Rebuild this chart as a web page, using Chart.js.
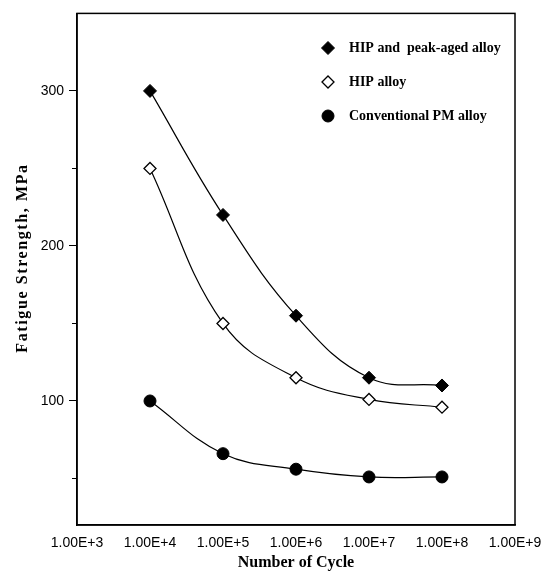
<!DOCTYPE html>
<html>
<head>
<meta charset="utf-8">
<script src="https://cdn.jsdelivr.net/npm/chart.js@4"></script>
<style>
  html, body { margin: 0; padding: 0; background: #fff; }
  #wrap { width: 546px; height: 572px; }
</style>
</head>
<body>
<div id="wrap"><canvas id="fatigueChart" width="546" height="572"></canvas></div>
<script>
// Data
const cycles = [1e4, 1e5, 1e6, 1e7, 1e8];
const hipPeakAged = [300, 220, 155, 115, 110];
const hipAlloy = [250, 150, 115, 101, 96];
const conventionalPM = [100, 66, 56, 51, 51];
const seriesNames = ['HIP and  peak-aged alloy', 'HIP alloy', 'Conventional PM alloy'];
const xTicks = [1e3, 1e4, 1e5, 1e6, 1e7, 1e8, 1e9];
const yMajor = [100, 200, 300];
const yMinor = [50, 150, 250];
const yTitle = 'Fatigue Strength, MPa';

const toPoints = vals => vals.map((v, i) => ({ x: cycles[i], y: v }));

// Frame, short minor ticks, rotated y title and the legend inside the plot
const frameAndLegend = {
    id: 'frameAndLegend',
    afterDraw(chart) {
        const ctx = chart.ctx;
        const a = chart.chartArea;
        const yScale = chart.scales.y;
        ctx.save();
        ctx.strokeStyle = '#000';
        ctx.lineWidth = 1.5;
        ctx.strokeRect(a.left, a.top, a.right - a.left, a.bottom - a.top);

        // minor ticks on the y axis
        ctx.lineWidth = 1;
        yMinor.forEach(v => {
            const y = Math.round(yScale.getPixelForValue(v)) + 0.5;
            ctx.beginPath();
            ctx.moveTo(a.left - 5, y);
            ctx.lineTo(a.left, y);
            ctx.stroke();
        });

        // y title (letter spaced like the scan)
        ctx.save();
        ctx.translate(23, 258);
        ctx.rotate(-Math.PI / 2);
        ctx.font = 'bold 16px "Liberation Serif", serif';
        ctx.letterSpacing = '1.6px';
        ctx.textAlign = 'center';
        ctx.textBaseline = 'middle';
        ctx.fillStyle = '#000';
        ctx.fillText(yTitle, 0, 0);
        ctx.restore();

        // legend
        ctx.font = 'bold 14px "Liberation Serif", serif';
        ctx.textBaseline = 'middle';
        const rows = [48, 82, 116];
        chart.data.datasets.forEach((ds, i) => {
            const y = rows[i];
            ctx.fillStyle = ds.pointBackgroundColor;
            ctx.strokeStyle = '#000';
            ctx.lineWidth = ds.pointBorderWidth;
            Chart.helpers.drawPoint(ctx, {
                pointStyle: ds.pointStyle,
                radius: ds.pointRadius,
                rotation: 0,
                borderWidth: ds.pointBorderWidth
            }, 328, y);
            ctx.fillStyle = '#000';
            ctx.fillText(ds.label, 349, y);
        });
        ctx.restore();
    }
};

const ctx = document.getElementById('fatigueChart').getContext('2d');
new Chart(ctx, {
    type: 'line',
    data: {
        datasets: [{
            label: seriesNames[0],
            data: toPoints(hipPeakAged),
            borderColor: '#000',
            borderWidth: 1.2,
            pointStyle: 'rectRot',
            pointRadius: 6.5,
            pointBackgroundColor: '#000',
            pointBorderColor: '#000',
            pointBorderWidth: 1,
            tension: 0.4
        }, {
            label: seriesNames[1],
            data: toPoints(hipAlloy),
            borderColor: '#000',
            borderWidth: 1.2,
            pointStyle: 'rectRot',
            pointRadius: 6,
            pointBackgroundColor: '#fff',
            pointBorderColor: '#000',
            pointBorderWidth: 1.3,
            tension: 0.4
        }, {
            label: seriesNames[2],
            data: toPoints(conventionalPM),
            borderColor: '#000',
            borderWidth: 1.2,
            pointStyle: 'circle',
            pointRadius: 6,
            pointBackgroundColor: '#000',
            pointBorderColor: '#000',
            pointBorderWidth: 1,
            tension: 0.4
        }]
    },
    options: {
        responsive: false,
        animation: false,
        layout: { padding: { top: 12, right: 31, left: 0, bottom: 0 } },
        plugins: {
            legend: { display: false },
            tooltip: { enabled: false }
        },
        scales: {
            x: {
                type: 'logarithmic',
                min: 1e3,
                max: 1e9,
                afterBuildTicks: scale => {
                    scale.ticks = xTicks.map(v => ({ value: v }));
                },
                afterFit: scale => { scale.height = 47; },
                grid: { display: false },
                border: { color: '#000', width: 1.5 },
                ticks: {
                    color: '#000',
                    padding: 2,
                    maxRotation: 0,
                    autoSkip: false,
                    font: { family: '"Liberation Sans", Arial, sans-serif', size: 14 },
                    callback: v => '1.00E+' + Math.round(Math.log10(v))
                },
                title: {
                    display: true,
                    text: 'Number of Cycle',
                    color: '#000',
                    padding: { top: 0, bottom: 0 },
                    font: { family: '"Liberation Serif", serif', size: 16, weight: 'bold' }
                }
            },
            y: {
                min: 20,
                max: 350,
                afterBuildTicks: scale => {
                    scale.ticks = yMajor.map(v => ({ value: v }));
                },
                afterFit: scale => { scale.width = 77; },
                grid: {
                    drawOnChartArea: false,
                    drawTicks: true,
                    tickLength: 8,
                    color: '#000'
                },
                border: { color: '#000', width: 1.5 },
                ticks: {
                    color: '#000',
                    padding: 5,
                    font: { family: '"Liberation Sans", Arial, sans-serif', size: 14 }
                },
                title: { display: false }
            }
        }
    },
    plugins: [frameAndLegend]
});
</script>
</body>
</html>
